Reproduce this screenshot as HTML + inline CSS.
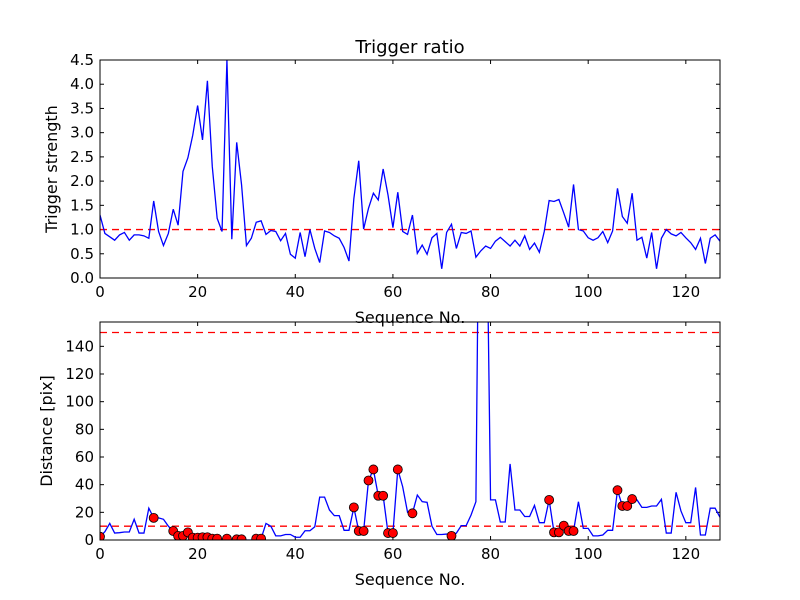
<!DOCTYPE html>
<html><head><meta charset="utf-8"><style>
body{margin:0;background:#fff;}
svg{display:block;font-family:"DejaVu Sans","Liberation Sans",sans-serif;}
</style></head><body>
<svg id="chart" width="800" height="600" xmlns="http://www.w3.org/2000/svg">
<rect width="800" height="600" fill="#fff"/>
</svg>
<script>
const ratio=[1.30,0.92,0.85,0.78,0.89,0.94,0.78,0.89,0.89,0.87,0.82,1.59,0.96,0.67,0.92,1.42,1.09,2.2,2.48,2.95,3.56,2.85,4.07,2.3,1.23,0.96,4.5,0.8,2.8,1.92,0.67,0.82,1.15,1.18,0.90,0.98,0.96,0.77,0.92,0.49,0.41,0.94,0.44,1.0,0.61,0.32,0.97,0.94,0.87,0.82,0.63,0.35,1.64,2.42,1.01,1.44,1.75,1.61,2.25,1.71,1.04,1.77,0.96,0.90,1.30,0.51,0.68,0.49,0.83,0.92,0.19,0.94,1.11,0.61,0.94,0.92,0.97,0.43,0.56,0.66,0.61,0.76,0.84,0.75,0.66,0.78,0.66,0.87,0.59,0.72,0.53,0.96,1.60,1.58,1.62,1.34,1.05,1.93,1.0,0.97,0.83,0.78,0.83,0.96,0.73,0.97,1.85,1.27,1.13,1.75,0.78,0.84,0.41,0.94,0.19,0.82,1.0,0.91,0.87,0.94,0.83,0.73,0.59,0.82,0.30,0.82,0.89,0.76];
const distance=[2.4,6,12,5,5.3,5.8,5.8,15,5,5,23,16,16,15,10,6.5,3,3,5.5,1.7,1.7,2,2,1,1,0,1,0,0.5,0.5,0,0,1,1,12,10,3,3,4,4,2,2,6.7,6.7,9.6,31,31,21.7,17.6,17.6,7,7,23.6,6.5,6.5,43,51,32,32,5,5,51,38.5,20,19.3,32.5,27.7,27.2,10,4,4,4.3,3,5,10.4,10.4,18,27.7,400,300,29,29,13,13,55,21.7,21.7,17,17,25,12.5,12.5,29,5.5,5.5,10.4,6.5,6.5,27.7,8.4,8.4,3,3,3.6,7,7,36,24.6,24.6,29.6,29,23.6,23.6,24.6,24.6,29.4,5,5,34.5,21,12.5,12.5,38,3.6,3.6,23,23,16.4];
const markerIdx=[0,11,15,16,17,18,19,20,21,22,23,24,26,28,29,32,33,52,53,54,55,56,57,58,59,60,61,64,72,92,93,94,95,96,97,106,107,108,109];
const xTicks=[0,20,40,60,80,100,120];
const topTicks=[0,0.5,1,1.5,2,2.5,3,3.5,4,4.5];
const botTicks=[0,20,40,60,80,100,120,140];
const topThreshold=1.0, botThresholds=[10,150];

const NS="http://www.w3.org/2000/svg", svg=document.getElementById('chart');
function mk(tag,attrs,parent){const e=document.createElementNS(NS,tag);for(const k in attrs)e.setAttribute(k,attrs[k]);(parent||svg).appendChild(e);return e;}
const L=100,R=720,xMax=ratio.length-1;
const X=v=>L+(v/xMax)*(R-L);
function panel(top,bot,yMax,ticks,fmt,name){
  const Y=v=>bot-(v/yMax)*(bot-top);
  const g=mk('g',{});
  
  
  mk('defs',{},g).innerHTML=`<clipPath id="c-${name}"><rect x="${L}" y="${top}" width="${R-L}" height="${bot-top}"/></clipPath>`;
  xTicks.forEach(t=>{const x=X(t);
    mk('line',{x1:x,x2:x,y1:bot,y2:bot-4,stroke:'#000'},g);mk('line',{x1:x,x2:x,y1:top,y2:top+4,stroke:'#000'},g);
    const tx=mk('text',{x:x,y:bot+19,'text-anchor':'middle','font-size':15},g);tx.textContent=t;
    
    });
  ticks.forEach(t=>{const y=Y(t);
    mk('line',{x1:L,x2:L+4,y1:y,y2:y,stroke:'#000'},g);mk('line',{x1:R,x2:R-4,y1:y,y2:y,stroke:'#000'},g);
    const tx=mk('text',{x:L-6,y:y+5,'text-anchor':'end','font-size':15},g);tx.textContent=fmt(t);
    
    });
  return {g,Y};
}
// top
const p1=panel(60,278,4.5,topTicks,t=>t.toFixed(1),'ratio-panel');
const th1=mk('line',{x1:L,x2:R,y1:p1.Y(topThreshold),y2:p1.Y(topThreshold),stroke:'#f00','stroke-width':1.3,'stroke-dasharray':'7,5'},p1.g);


const l1=mk('polyline',{points:ratio.map((v,i)=>X(i)+','+p1.Y(v)).join(' '),fill:'none',stroke:'#00f','stroke-width':1.3,'clip-path':'url(#c-ratio-panel)'},p1.g);


// bottom
const p2=panel(322,540,157.6,botTicks,t=>t,'distance-panel');
botThresholds.forEach(t=>{const l=mk('line',{x1:L,x2:R,y1:p2.Y(t),y2:p2.Y(t),stroke:'#f00','stroke-width':1.3,'stroke-dasharray':'7,5'},p2.g);
  
  });
const l2=mk('polyline',{points:distance.map((v,i)=>X(i)+','+p2.Y(v)).join(' '),fill:'none',stroke:'#00f','stroke-width':1.3,'clip-path':'url(#c-distance-panel)'},p2.g);


markerIdx.forEach(i=>{const c=mk('circle',{cx:X(i),cy:p2.Y(distance[i]),r:4.5,fill:'#f00',stroke:'#000','stroke-width':0.8,'clip-path':'url(#c-distance-panel)'},p2.g);
  
  });
// frames
[[60,278],[322,540]].forEach(([t,b])=>{const r=mk('rect',{x:L,y:t,width:R-L,height:b-t,fill:'none',stroke:'#000','stroke-width':1});
  
  });
function label(txt,x,y,size,name,rot){const t=mk('text',{x:x,y:y,'text-anchor':'middle','font-size':size});
  if(rot)t.setAttribute('transform',`rotate(-90 ${x} ${y})`);t.textContent=txt;
  
  }
label('Trigger ratio',410,53,18,'chart-title');
label('Sequence No.',410,323,16,'top-x-axis-title');
label('Sequence No.',410,585,16,'bottom-x-axis-title');
label('Trigger strength',57,169,16,'top-y-axis-title',true);
label('Distance [pix]',52,431,16,'bottom-y-axis-title',true);
</script>
</body></html>
